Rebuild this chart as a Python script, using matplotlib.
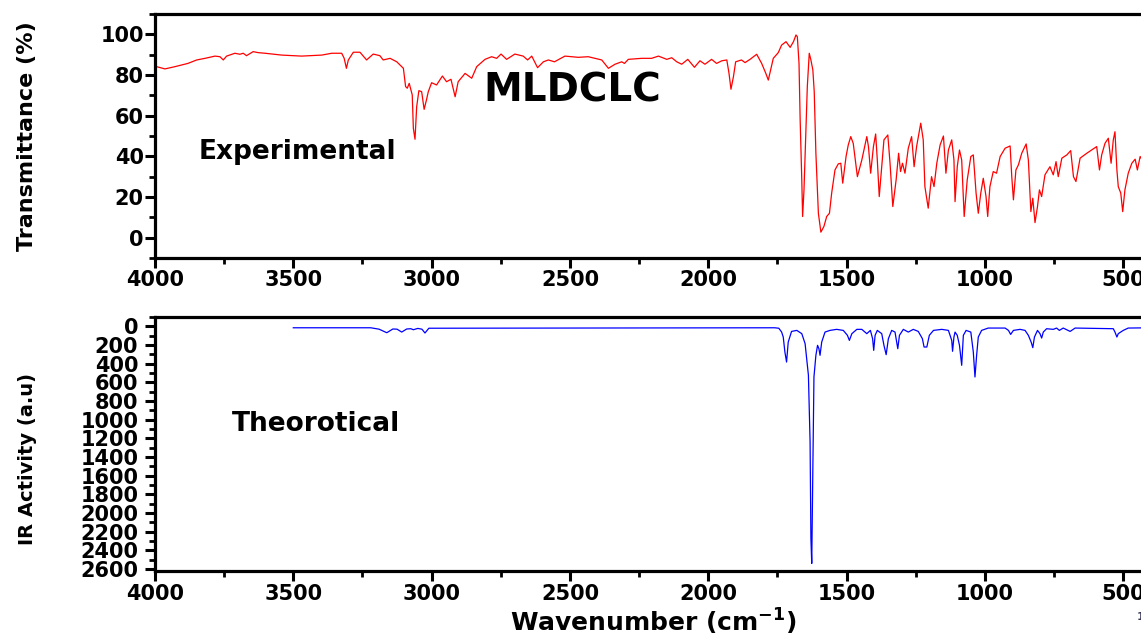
import matplotlib
matplotlib.use("Agg")
import matplotlib.pyplot as plt
from matplotlib.ticker import MultipleLocator

# ---------------------------------------------------------
# Data
# ---------------------------------------------------------
# Experimental FT-IR spectrum: wavenumber (cm-1) and transmittance (%)
exp_wn = [4000, 3994, 3964, 3928, 3881, 3849, 3819, 3783, 3765, 3753, 3741, 3711,
          3693, 3681, 3669, 3645, 3627, 3602, 3542, 3470, 3397, 3361, 3325, 3316,
          3308, 3301, 3283, 3259, 3235, 3211, 3187, 3175, 3150, 3126, 3102, 3094,
          3088, 3081, 3070, 3066, 3060, 3054, 3046, 3036, 3027, 3018, 3012, 3000,
          2982, 2961, 2946, 2930, 2915, 2904, 2879, 2855, 2837, 2807, 2783, 2765,
          2749, 2729, 2699, 2669, 2653, 2638, 2617, 2596, 2578, 2556, 2518, 2470,
          2434, 2385, 2361, 2337, 2313, 2303, 2289, 2241, 2205, 2180, 2150, 2132,
          2114, 2096, 2074, 2050, 2030, 2012, 1988, 1970, 1951, 1933, 1925, 1918,
          1909, 1901, 1880, 1867, 1849, 1825, 1807, 1792, 1783, 1765, 1747, 1735,
          1719, 1704, 1692, 1683, 1678, 1672, 1668, 1662, 1659, 1654, 1649, 1642,
          1635, 1629, 1622, 1617, 1611, 1602, 1593, 1582, 1572, 1562, 1554, 1542,
          1530, 1521, 1514, 1502, 1494, 1485, 1476, 1461, 1445, 1427, 1421, 1413,
          1403, 1395, 1389, 1382, 1373, 1365, 1351, 1343, 1333, 1321, 1312, 1305,
          1298, 1289, 1277, 1265, 1256, 1247, 1232, 1223, 1217, 1205, 1193, 1184,
          1174, 1162, 1150, 1141, 1132, 1120, 1112, 1108, 1100, 1092, 1084, 1075,
          1064, 1051, 1042, 1032, 1024, 1015, 1006, 996, 990, 982, 970, 958,
          945, 927, 909, 903, 897, 888, 879, 867, 851, 843, 834, 827,
          819, 810, 803, 795, 783, 765, 753, 743, 735, 722, 704, 690,
          680, 671, 656, 632, 596, 586, 578, 566, 554, 544, 536, 530,
          523, 518, 509, 502, 494, 482, 469, 457, 449, 439, 430]
exp_t = [84.5, 84.1, 83.0, 84.1, 85.7, 87.4, 88.2, 89.3, 89.0, 87.4, 89.3, 90.7,
         90.2, 90.7, 89.5, 91.5, 91.0, 90.7, 89.8, 89.3, 89.8, 90.7, 90.7, 88.2,
         83.3, 87.4, 91.2, 91.2, 87.4, 90.3, 89.5, 87.4, 88.2, 86.5, 83.3, 74.3,
         73.5, 75.9, 70.2, 53.8, 48.4, 64.4, 72.3, 71.8, 63.1, 68.1, 71.8, 76.2,
         75.1, 79.5, 76.7, 77.9, 69.3, 76.7, 80.8, 78.4, 84.1, 87.7, 89.0, 88.2,
         90.3, 87.7, 90.3, 89.3, 87.4, 89.3, 83.6, 86.5, 87.4, 86.5, 89.3, 88.7,
         89.0, 87.4, 83.3, 85.3, 86.5, 85.7, 87.7, 88.2, 88.2, 89.3, 87.7, 88.5,
         86.5, 85.3, 87.7, 83.8, 87.0, 85.3, 87.7, 85.7, 87.0, 87.4, 80.8, 73.0,
         79.2, 86.5, 87.4, 86.1, 87.7, 90.2, 85.7, 80.8, 77.5, 88.2, 91.0, 94.7,
         96.4, 93.6, 96.4, 99.7, 98.8, 85.7, 58.7, 28.4, 10.4, 23.5, 44.8, 74.3,
         90.7, 87.4, 82.5, 71.8, 41.5, 12.0, 2.7, 5.5, 10.4, 12.0, 21.9, 33.3,
         36.3, 36.6, 26.8, 39.9, 45.6, 49.7, 46.4, 30.0, 38.2, 49.7, 44.8, 31.7,
         44.8, 51.0, 38.2, 20.2, 34.9, 48.1, 50.5, 36.6, 15.3, 28.4, 41.5, 32.5,
         36.6, 31.7, 44.0, 49.7, 34.9, 44.8, 56.3, 48.1, 25.1, 14.5, 30.0, 25.1,
         36.6, 45.6, 50.0, 31.7, 43.1, 48.1, 38.2, 17.7, 34.9, 43.1, 38.2, 10.4,
         28.4, 39.9, 40.7, 21.9, 12.0, 21.9, 29.2, 20.2, 10.4, 25.1, 32.5, 31.7,
         39.9, 44.0, 45.1, 30.0, 18.6, 33.3, 35.8, 41.5, 46.1, 38.2, 12.8, 19.4,
         7.4, 15.3, 23.5, 20.2, 30.9, 34.9, 30.9, 37.4, 30.0, 39.1, 40.7, 42.8,
         30.0, 27.6, 39.1, 41.5, 44.8, 33.3, 40.7, 46.4, 48.9, 36.6, 48.1, 52.1,
         33.3, 25.1, 21.9, 12.8, 23.5, 31.7, 36.6, 38.6, 33.3, 39.9, 38.0]

# Theoretical (DFT) IR spectrum: wavenumber (cm-1) and IR activity (a.u)
theo_wn = [3500, 3220, 3190, 3162, 3140, 3125, 3108, 3090, 3075, 3066, 3050, 3035,
           3024, 3010, 1760, 1745, 1735, 1729, 1723, 1717, 1711, 1699, 1680, 1662,
           1650, 1638, 1632, 1629, 1626, 1622, 1618, 1611, 1605, 1600, 1596, 1590,
           1578, 1560, 1536, 1512, 1497, 1490, 1481, 1463, 1445, 1427, 1414, 1406,
           1402, 1397, 1389, 1373, 1365, 1357, 1349, 1337, 1325, 1319, 1315, 1309,
           1295, 1277, 1259, 1241, 1226, 1220, 1210, 1201, 1186, 1156, 1132, 1120,
           1117, 1112, 1108, 1100, 1092, 1084, 1078, 1068, 1051, 1042, 1036, 1030,
           1024, 1012, 988, 927, 915, 907, 897, 873, 855, 843, 833, 827,
           821, 810, 801, 795, 789, 777, 753, 741, 731, 717, 692, 674,
           536, 530, 523, 518, 500, 482, 400]
theo_i = [15, 15, 30, 68, 28, 30, 61, 28, 25, 36, 22, 30,
          71, 20, 15, 20, 60, 114, 275, 382, 168, 54, 43, 78,
          185, 524, 1238, 2272, 2539, 1523, 542, 310, 203, 239, 310, 168,
          61, 43, 32, 43, 96, 150, 78, 32, 32, 78, 43, 132,
          257, 96, 43, 78, 203, 303, 132, 43, 61, 168, 239, 96,
          32, 61, 32, 54, 132, 221, 221, 96, 43, 32, 43, 150,
          267, 114, 61, 96, 203, 417, 96, 43, 61, 275, 542, 310,
          114, 43, 18, 18, 43, 86, 43, 32, 43, 96, 168, 228,
          114, 43, 78, 125, 61, 25, 32, 18, 43, 18, 54, 18,
          25, 61, 114, 78, 43, 18, 15]

X_TICKS = [4000, 3500, 3000, 2500, 2000, 1500, 1000, 500]

plt.rcParams["font.family"] = ["DejaVu Sans"]
plt.rcParams["font.weight"] = "bold"
plt.rcParams["axes.labelweight"] = "bold"
plt.rcParams["mathtext.fontset"] = "dejavusans"


def style_axes(ax):
    for side in ("top", "bottom", "left"):
        ax.spines[side].set_linewidth(2.3)
    ax.spines["right"].set_visible(False)
    ax.set_xlim(4000, 400)
    ax.set_xticks(X_TICKS)
    ax.xaxis.set_minor_locator(MultipleLocator(250))
    ax.tick_params(which="major", direction="out", length=7, width=2.2,
                   labelsize=15, pad=2)
    ax.tick_params(which="minor", direction="out", length=4.5, width=2.0)


fig = plt.figure(figsize=(11.41, 6.37), dpi=100)
ax1 = fig.add_axes([0.1358, 0.5950, 0.8729, 0.3830])
ax2 = fig.add_axes([0.1358, 0.1036, 0.8729, 0.3987])

# Experimental panel
ax1.plot(exp_wn, exp_t, color="#ff0000", linewidth=0.9)
style_axes(ax1)
ax1.set_ylim(-10, 110)
ax1.set_yticks([0, 20, 40, 60, 80, 100])
ax1.yaxis.set_minor_locator(MultipleLocator(10))
ax1.tick_params(axis="y", which="major", pad=1)
ax1.set_ylabel("Transmittance (%)", fontsize=16)
ax1.yaxis.set_label_coords(-0.1185, 0.50)
ax1.text(2814, 72.6, "MLDCLC", fontsize=28, fontweight="bold", va="center", ha="left")
ax1.text(3841, 42.2, "Experimental", fontsize=19, fontweight="bold", va="center", ha="left")

# Theoretical panel (inverted y)
ax2.plot(theo_wn, theo_i, color="#0000ff", linewidth=0.9)
style_axes(ax2)
ax2.set_ylim(2620, -100)
ax2.set_yticks(range(0, 2601, 200))
ax2.yaxis.set_minor_locator(MultipleLocator(100))
ax2.tick_params(axis="y", which="major", pad=5)
ax2.set_ylabel("IR Activity (a.u)", fontsize=14)
ax2.yaxis.set_label_coords(-0.1185, 0.44)
ax2.set_xlabel(r"Wavenumber (cm$^{\mathbf{-1}}$)", fontsize=18)
ax2.xaxis.set_label_coords(0.5, -0.142)
ax2.text(3722, 1049, "Theorotical", fontsize=19, fontweight="bold", va="center", ha="left")

fig.text(0.9965, 1 - 617 / 637, "1", fontsize=8, color="#333355", va="center", ha="left")

fig.savefig("out.png", dpi=100)
